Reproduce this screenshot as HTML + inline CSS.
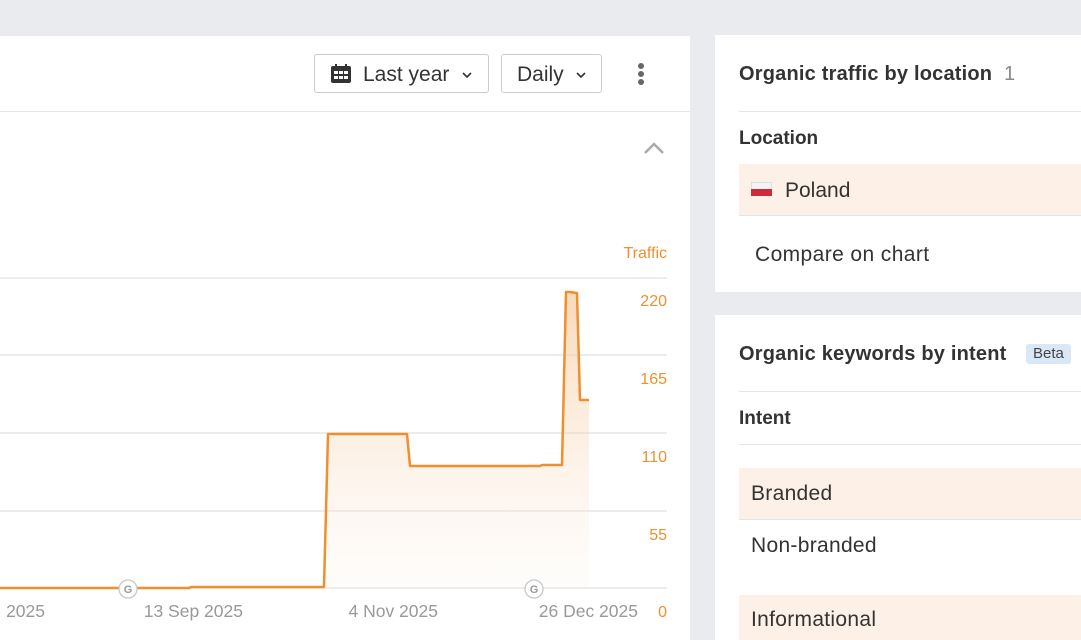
<!DOCTYPE html>
<html><head><meta charset="utf-8"><style>
*{margin:0;padding:0;box-sizing:border-box}
body{width:1081px;height:640px;background:#e9ebee;font-family:"Liberation Sans",sans-serif;position:relative;overflow:hidden;color:#333}
.a{position:absolute}
.card{position:absolute;background:#fff}
.btn{position:absolute;border:1px solid #c8cbd0;border-radius:3px;height:39px;top:54px;font-size:21px;color:#333;line-height:39px}
.hl{position:absolute;height:1px;background:#e3e5e8}
.t{position:absolute;white-space:nowrap}
</style></head><body>
<div class="card" style="left:0;top:36px;width:690px;height:604px"></div>
<div class="hl" style="left:0;top:111px;width:690px"></div>
<div class="btn" style="left:314px;width:175px">
 <svg class="a" style="left:16px;top:9px" width="20" height="19" viewBox="0 0 20 19"><rect x="0" y="2" width="20" height="17" rx="2" fill="#333"/><rect x="4" y="0" width="2" height="4" fill="#333"/><rect x="14" y="0" width="2" height="4" fill="#333"/><g fill="#fff"><rect x="3" y="7" width="4" height="3"/><rect x="8" y="7" width="4" height="3"/><rect x="13" y="7" width="4" height="3"/><rect x="3" y="12" width="4" height="3"/><rect x="8" y="12" width="4" height="3"/><rect x="13" y="12" width="4" height="3"/></g></svg>
 <span class="t" style="left:48px">Last year</span>
 <svg class="a" style="left:147px;top:17px" width="10" height="7"><path d="M1 1l4 4 4-4" stroke="#333" stroke-width="1.6" fill="none"/></svg>
</div>
<div class="btn" style="left:501px;width:101px">
 <span class="t" style="left:15px">Daily</span>
 <svg class="a" style="left:74px;top:17px" width="10" height="7"><path d="M1 1l4 4 4-4" stroke="#333" stroke-width="1.6" fill="none"/></svg>
</div>
<svg class="a" style="left:636px;top:62px" width="10" height="24"><circle cx="5" cy="4" r="3" fill="#666"/><circle cx="5" cy="12" r="3" fill="#666"/><circle cx="5" cy="20" r="3" fill="#666"/></svg>
<svg class="a" style="left:643px;top:141px" width="22" height="14"><path d="M2 12l9-9 9 9" stroke="#aaa" stroke-width="2.5" fill="none"/></svg>
<svg class="a" style="left:0;top:0" width="690" height="640">
<defs><linearGradient id="g" x1="0" y1="0" x2="0" y2="1"><stop offset="0" stop-color="#f5c08c" stop-opacity=".6"/><stop offset="1" stop-color="#fbe8d6" stop-opacity=".1"/></linearGradient></defs>
<g stroke="#e6e6e6" stroke-width="1.5"><line x1="0" y1="278" x2="667" y2="278"/><line x1="0" y1="355" x2="667" y2="355"/><line x1="0" y1="433" x2="667" y2="433"/><line x1="0" y1="511" x2="667" y2="511"/><line x1="0" y1="588" x2="667" y2="588"/></g>
<path d="M0 588H189L191 587H324L328 434H407L410 466H540L542 465H562L566 292H570L577 293L580 400H589V588H0Z" fill="url(#g)"/>
<path d="M0 588H189L191 587H324L328 434H407L410 466H540L542 465H562L566 292H570L577 293L580 400H589" fill="none" stroke="#ef8f2e" stroke-width="2.5" stroke-linejoin="round"/>
<g fill="#fff" stroke="#c8c8c8" stroke-width="1.3"><circle cx="128" cy="589" r="9"/><circle cx="534" cy="589" r="9"/></g>
<g font-family="Liberation Sans" font-size="11" font-weight="bold" fill="#999" text-anchor="middle"><text x="128" y="593">G</text><text x="534" y="593">G</text></g>
<g font-family="Liberation Sans" font-size="16" fill="#ef8f2e" text-anchor="end"><text x="667" y="258">Traffic</text><text x="667" y="306">220</text><text x="667" y="384">165</text><text x="667" y="462">110</text><text x="667" y="540">55</text><text x="667" y="617">0</text></g>
<g font-family="Liberation Sans" font-size="17.5" fill="#999" text-anchor="end"><text x="45" y="617">2025</text><text x="243" y="617">13 Sep 2025</text><text x="438" y="617">4 Nov 2025</text><text x="638" y="617">26 Dec 2025</text></g>
</svg>

<div class="card" style="left:715px;top:35px;width:366px;height:257px"></div>
<div class="t" style="left:739px;top:63px;font-size:20px;font-weight:bold;color:#333;letter-spacing:0.2px">Organic traffic by location <span style="font-weight:normal;color:#888;margin-left:6px">1</span></div>
<div class="hl" style="left:739px;top:111px;width:342px"></div>
<div class="t" style="left:739px;top:128px;font-size:19px;font-weight:bold">Location</div>
<div class="a" style="left:739px;top:164px;width:342px;height:52px;background:#fdf0e6;border-bottom:1px solid #e3e5e8"></div>
<div class="a" style="left:751px;top:182px;width:21px;height:7px;background:#f4f4f4;border:1px solid #ddd;border-bottom:none"></div>
<div class="a" style="left:751px;top:189px;width:21px;height:7px;background:#d0293a"></div>
<div class="t" style="left:785px;top:179px;font-size:21px">Poland</div>
<div class="t" style="left:755px;top:243px;font-size:21px;letter-spacing:0.4px">Compare on chart</div>

<div class="card" style="left:715px;top:315px;width:366px;height:325px"></div>
<div class="t" style="left:739px;top:343px;font-size:20px;font-weight:bold;letter-spacing:0.2px">Organic keywords by intent</div>
<div class="t" style="left:1026px;top:344px;height:20px;padding:0 7px;background:#d9e8f7;border-radius:3px;font-size:15px;line-height:20px;color:#444">Beta</div>
<div class="hl" style="left:739px;top:391px;width:342px"></div>
<div class="t" style="left:739px;top:408px;font-size:19px;font-weight:bold">Intent</div>
<div class="hl" style="left:739px;top:444px;width:342px"></div>
<div class="a" style="left:739px;top:468px;width:342px;height:52px;background:#fdf0e6;border-bottom:1px solid #e3e5e8"></div>
<div class="t" style="left:751px;top:482px;font-size:21px;letter-spacing:0.3px">Branded</div>
<div class="t" style="left:751px;top:534px;font-size:21px;letter-spacing:0.3px">Non-branded</div>
<div class="a" style="left:739px;top:595px;width:342px;height:45px;background:#fdf0e6"></div>
<div class="t" style="left:751px;top:608px;font-size:21px;letter-spacing:0.3px">Informational</div>
</body></html>
